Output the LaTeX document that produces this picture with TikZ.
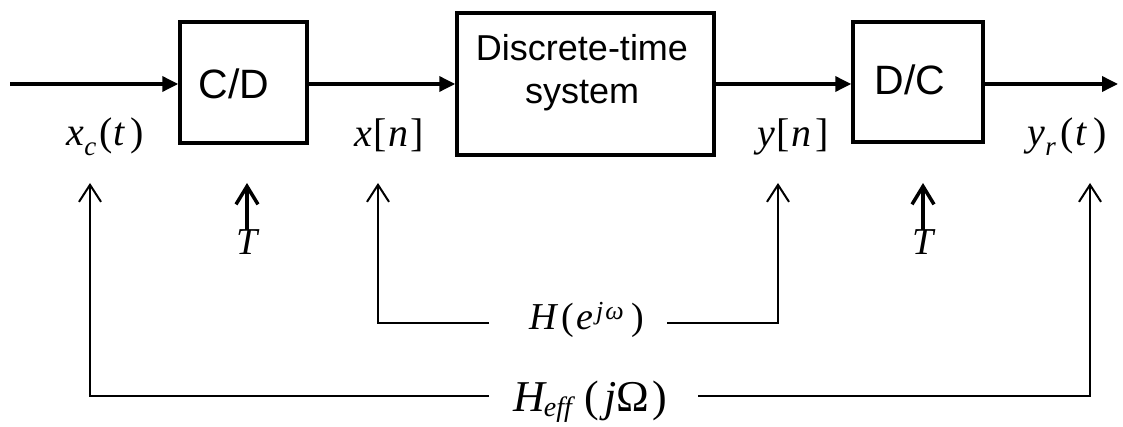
\documentclass[tikz,border=0pt]{standalone}
\usepackage{fontspec}
\usetikzlibrary{arrows.meta}
\newfontfamily\arl{Liberation Sans}
\newfontfamily\tms{Liberation Serif}
\newcommand{\fsz}[1]{\fontsize{#1}{#1}\selectfont}
\newcommand{\lowsub}[3]{\raisebox{-#2pt}{\fsz{#1}\itshape #3}}
\tikzset{
  blk/.style={draw, line width=3.5pt, inner sep=0pt},
  btxt/.style={font=\arl\fsz{41}, inner sep=0pt, align=center},
  lab/.style={font=\tms\fsz{40}, inner sep=0pt, anchor=base west},
  main/.style={line width=3.5pt, -{Triangle[length=16pt,width=15pt]}},
  fb/.style={line width=2pt, -{Straight Barb[length=17pt,width=22pt]}},
  clk/.style={line width=3.5pt, -{Straight Barb[length=18pt,width=22pt]}}
}
\begin{document}
\begin{tikzpicture}[x=1pt,y=1pt]
\useasboundingbox (0,0) rectangle (1123,-427);
% blocks
\node[blk, minimum width=127pt, minimum height=121pt] (cd) at (243.5,-82.5) {};
\node[blk, minimum width=257pt, minimum height=142pt] (dt) at (585.5,-84) {};
\node[blk, minimum width=130pt, minimum height=120pt] (dc) at (918,-82) {};
\node[btxt] (cdt) at (234,-84) {C/D};
\node[btxt, font=\arl\fsz{36}, anchor=base] (dtt1) at (582,-61) {Discrete-time};
\node[btxt, font=\arl\fsz{36}, anchor=base] (dtt2) at (582,-104) {system};
\node[btxt] (dct) at (910,-80) {D/C};
% main path
\coordinate (in) at (10,-84);
\coordinate (out) at (1118,-84);
\draw[main] (in) -- (in -| cd.west);
\draw[main] (cd.east |- in) -- (in -| dt.west);
\draw[main] (dt.east |- in) -- (in -| dc.west);
\draw[main] (dc.east |- out) -- (out);
% signal labels
\node[lab] (xc) at (66,-146) {\itshape x\kern0.5pt\lowsub{27}{10}{c}\kern3pt\upshape(\kern1pt\itshape t\kern6pt\upshape)};
\node[lab] (xn) at (354,-147) {\itshape x\kern2pt\upshape[\kern1pt\itshape n\kern2pt\upshape]};
\node[lab] (yn) at (757,-147) {\itshape y\kern2pt\upshape[\kern1pt\itshape n\kern4pt\upshape]};
\node[lab] (yr) at (1027,-146) {\itshape y\kern0.5pt\lowsub{27}{10}{r}\kern5pt\upshape(\kern1pt\itshape t\kern7pt\upshape)};
% sampling period T
\node[lab, font=\tms\fsz{38}, anchor=base] (T1) at (247,-255) {\itshape T};
\node[lab, font=\tms\fsz{38}, anchor=base] (T2) at (923,-255) {\itshape T};
\coordinate (t1tip) at (247,-183);
\coordinate (t2tip) at (923,-183);
\draw[clk] (T1.north) -- (t1tip);
\draw[clk] (T2.north) -- (t2tip);
% inner response H(e^{jw})
\node[lab, font=\tms\fsz{38}] (H) at (529,-329) {\itshape H\kern5pt\upshape(\kern2pt\itshape e\kern3pt\raisebox{10pt}{\fsz{26}\itshape j\kern2pt ω}\kern8pt\upshape)};
\coordinate (xtip) at (378,-183);
\coordinate (ytip) at (778,-183);
\coordinate (hl) at (489,-323);
\coordinate (hr) at (667,-323);
\draw[fb] (hl) -| (xtip);
\draw[fb] (hr) -| (ytip);
% overall response H_eff(jOmega)
\node[lab, font=\tms\fsz{44}] (He) at (513,-411) {\itshape H\kern-1pt\lowsub{28}{5}{eff}\kern13pt\upshape(\kern5pt\itshape j\upshape Ω\kern3pt)};
\coordinate (xctip) at (90,-183);
\coordinate (yrtip) at (1090,-183);
\coordinate (el) at (489,-396);
\coordinate (er) at (698,-396);
\draw[fb] (el) -| (xctip);
\draw[fb] (er) -| (yrtip);
\end{tikzpicture}
\end{document}
